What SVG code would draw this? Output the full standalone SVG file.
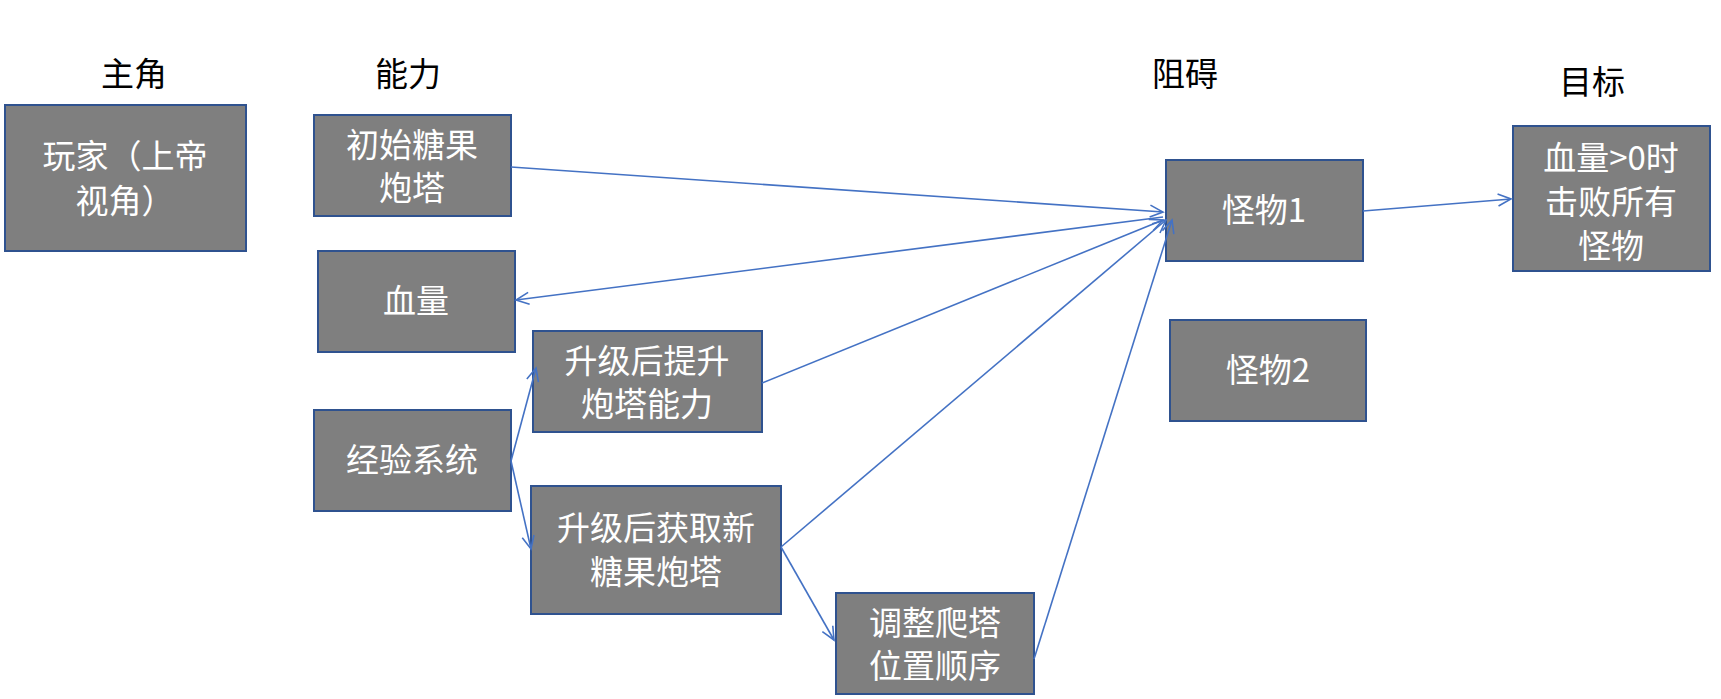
<svg xmlns="http://www.w3.org/2000/svg" width="1721" height="699" viewBox="0 0 1721 699">
<style>
.n{fill:#7f7f7f;stroke:#2f528f;stroke-width:2}
.t{fill:#fff;font-family:"Noto Sans CJK SC","Liberation Sans",sans-serif;font-size:33px;text-anchor:middle}
.h{fill:#000;font-family:"Noto Sans CJK SC","Liberation Sans",sans-serif;font-size:33px;text-anchor:middle}
.c{stroke:#4472c4;stroke-width:1.6;fill:none;marker-end:url(#a)}
</style>
<defs><marker id="a" markerWidth="16" markerHeight="14" refX="14" refY="7" orient="auto" markerUnits="userSpaceOnUse"><path d="M1,1 L14,7 L1,13" fill="none" stroke="#4472c4" stroke-width="1.6"/></marker></defs>
<rect width="1721" height="699" fill="#fff"/>
<g id="titles">
<text class="h" x="134" y="86">主角</text>
<text class="h" x="408" y="86">能力</text>
<text class="h" x="1185" y="86">阻碍</text>
<text class="h" x="1592" y="94">目标</text>
</g>
<g id="player"><rect class="n" x="5" y="105" width="241" height="146"/><text class="t" x="125" y="168">玩家（上帝</text><text class="t" x="125" y="213">视角）</text></g>
<g id="tower"><rect class="n" x="314" y="115" width="197" height="101"/><text class="t" x="412" y="157">初始糖果</text><text class="t" x="412" y="200">炮塔</text></g>
<g id="hp"><rect class="n" x="318" y="251" width="197" height="101"/><text class="t" x="416" y="313">血量</text></g>
<g id="up1"><rect class="n" x="533" y="331" width="229" height="101"/><text class="t" x="647" y="373">升级后提升</text><text class="t" x="647" y="416">炮塔能力</text></g>
<g id="exp"><rect class="n" x="314" y="410" width="197" height="101"/><text class="t" x="412" y="472">经验系统</text></g>
<g id="up2"><rect class="n" x="531" y="486" width="250" height="128"/><text class="t" x="656" y="540">升级后获取新</text><text class="t" x="656" y="584">糖果炮塔</text></g>
<g id="adj"><rect class="n" x="836" y="593" width="198" height="101"/><text class="t" x="935" y="635">调整爬塔</text><text class="t" x="935" y="678">位置顺序</text></g>
<g id="m1"><rect class="n" x="1166" y="160" width="197" height="101"/><text class="t" x="1264" y="222">怪物1</text></g>
<g id="m2"><rect class="n" x="1170" y="320" width="196" height="101"/><text class="t" x="1268" y="382">怪物2</text></g>
<g id="goal"><rect class="n" x="1513" y="126" width="197" height="145"/><text class="t" x="1611" y="170">血量&gt;0时</text><text class="t" x="1611" y="214">击败所有</text><text class="t" x="1611" y="258">怪物</text></g>
<g id="connectors">
<line class="c" x1="511" y1="167" x2="1163" y2="212"/>
<line class="c" x1="1163" y1="217" x2="516" y2="300"/>
<line class="c" x1="762" y1="383" x2="1163" y2="220"/>
<line class="c" x1="781" y1="547" x2="1166" y2="220"/>
<line class="c" x1="1034" y1="659" x2="1172" y2="220"/>
<line class="c" x1="781" y1="547" x2="834" y2="640"/>
<line class="c" x1="511" y1="461" x2="536" y2="368"/>
<line class="c" x1="511" y1="461" x2="531" y2="549"/>
<line class="c" x1="1363" y1="211" x2="1511" y2="199"/>
</g>
</svg>
